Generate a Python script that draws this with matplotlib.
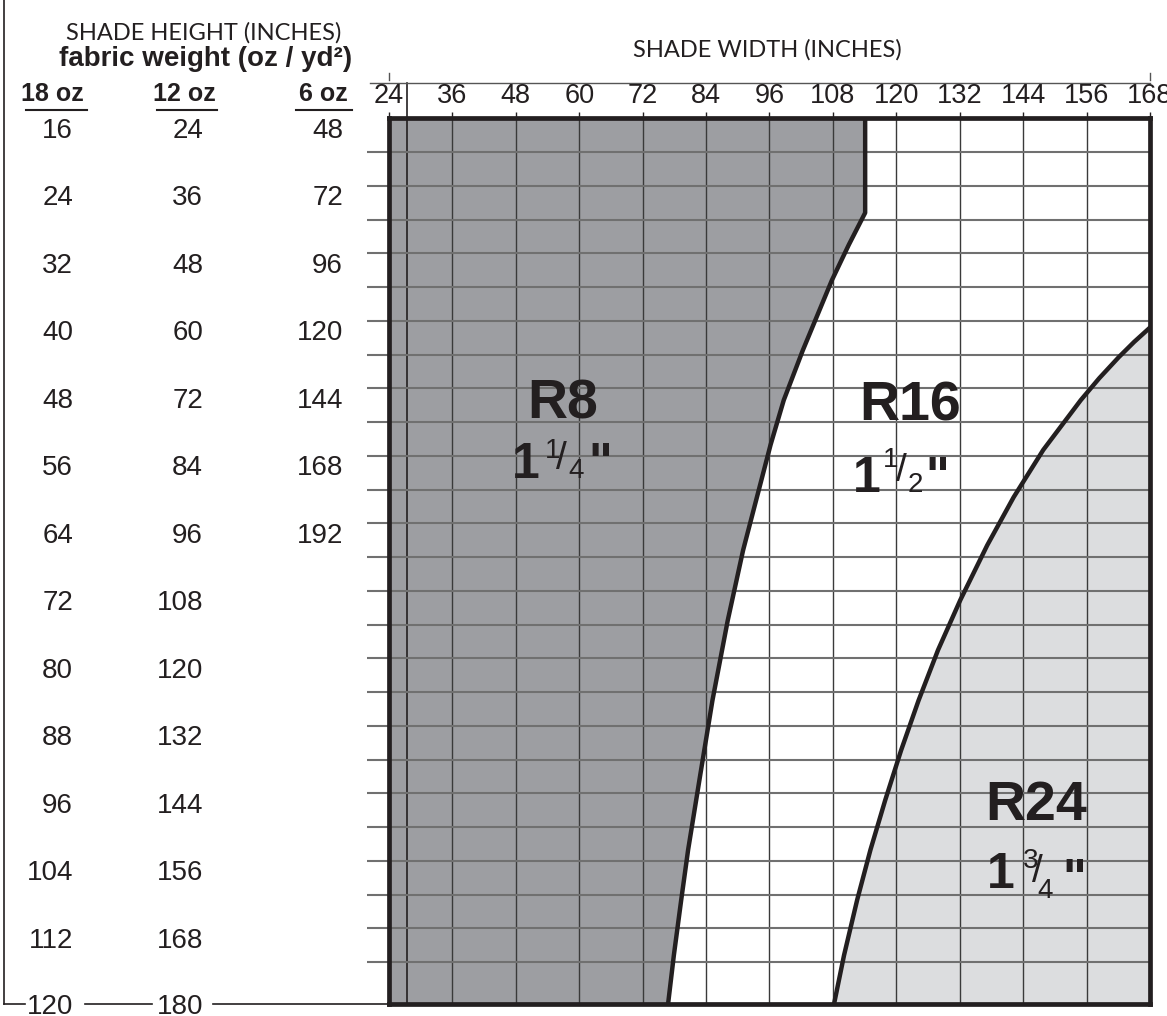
import matplotlib
matplotlib.use("Agg")
from matplotlib import pyplot as plt
from matplotlib import transforms

plt.rcParams['font.family'] = ['Liberation Sans', 'DejaVu Sans']

#%% data
width_ticks = [24, 36, 48, 60, 72, 84, 96, 108, 120, 132, 144, 156, 168]
rows_18oz = [16, 24, 32, 40, 48, 56, 64, 72, 80, 88, 96, 104, 112, 120]
rows_12oz = [24, 36, 48, 60, 72, 84, 96, 108, 120, 132, 144, 156, 168, 180]
rows_6oz = [48, 72, 96, 120, 144, 168, 192]
grid_rows = [19, 23, 27, 31, 35, 39, 43, 47, 51, 55, 59, 63, 67, 71, 75, 79,
             83, 87, 91, 95, 99, 103, 107, 111, 115]
min_width = 27.5

# R8 / R16 boundary (width, height in 18 oz scale)
r8_x = [114.1, 114.1, 111.0, 107.8, 102.3, 98.7, 96.2, 91.0, 88.1, 85.2,
        82.9, 80.6, 79.3, 77.9, 76.8]
r8_y = [15.0, 26.2, 30.0, 34.2, 42.5, 48.4, 53.7, 66.2, 74.5, 84.0,
        92.8, 101.7, 107.6, 114.2, 120.0]
# R16 / R24 boundary
r24_x = [168.0, 165.0, 162.1, 158.4, 154.9, 147.8, 142.2, 137.2, 132.1,
         127.9, 124.2, 120.9, 117.9, 115.1, 112.6, 110.1, 108.2]
r24_y = [39.8, 41.5, 43.3, 45.8, 48.4, 54.3, 59.9, 65.6, 72.1,
         78.0, 84.0, 89.9, 95.8, 101.7, 107.6, 114.2, 120.0]

ink = '#231f20'
W, H = 1167, 1016
fx = lambda px: px / W
fy = lambda py: 1 - py / H

#%%
fig = plt.figure(figsize=(W / 100, H / 100), dpi=100)
ax = fig.add_axes([fx(389), fy(1004.3), (1150 - 389) / W, (1004.3 - 118.3) / H])
ax.set_xlim(24, 168)
ax.set_ylim(120, 15)

# regions
ax.fill(r8_x + [24, 24], r8_y + [120, 15], color='#9d9ea2', zorder=0.5, lw=0)
ax.fill(r24_x + [168], r24_y + [120], color='#dcdddf', zorder=0.5, lw=0)
ax.plot(r8_x, r8_y, color=ink, lw=3.2, zorder=3, solid_joinstyle='round')
ax.plot(r24_x, r24_y, color=ink, lw=3.2, zorder=3, solid_joinstyle='round')

# grid
ax.set_xticks(width_ticks)
ax.set_yticks(grid_rows)
ax.grid(axis='x', color='#3a3a3a', lw=1.0)
ax.grid(axis='y', color='#707070', lw=1.5)
ax.set_axisbelow(False)
for l in ax.get_xgridlines() + ax.get_ygridlines():
    l.set_zorder(1)
ax.tick_params(axis='x', top=True, bottom=False, labeltop=True, labelbottom=False,
               length=4.5, width=1, color=ink, pad=2, labelsize=19.5, labelcolor=ink)
ax.tick_params(axis='y', left=True, right=False, labelleft=False,
               length=16, width=1.5, color='#707070')
for s in ax.spines.values():
    s.set_linewidth(3.4)
    s.set_color(ink)
    s.set_zorder(4)

# minimum width line, going up to the guide line
ax.axvline(min_width, ymin=0, ymax=1.04, color=ink, lw=1.2, clip_on=False, zorder=2)

# top guide line with end ticks
tr_xf = transforms.blended_transform_factory(ax.transData, fig.transFigure)
ax.plot([20.4, 168], [fy(83), fy(83)], color='#555555', lw=1.0, transform=tr_xf, clip_on=False)
for xv in (24, 168):
    ax.plot([xv, xv], [fy(73), fy(80)], color='#555555', lw=1.0, transform=tr_xf, clip_on=False)

# titles
fig.text(fx(204), fy(40), 'SHADE HEIGHT (INCHES)', family=['Lato', 'DejaVu Sans'],
         fontsize=17, ha='center', va='baseline', color=ink)
fig.text(fx(206), fy(66), 'fabric weight (oz / yd²)', fontsize=20, weight='bold',
         ha='center', va='baseline', color=ink)
fig.text(fx(767), fy(57), 'SHADE WIDTH (INCHES)', family=['Lato', 'DejaVu Sans'],
         fontsize=17, ha='center', va='baseline', color=ink)

# column headers
for name, cx, x0, x1 in [('18 oz', 52, 26, 87), ('12 oz', 184, 157, 217), ('6 oz', 323, 296, 352)]:
    fig.text(fx(cx), fy(101), name, fontsize=18, weight='bold', ha='center',
             va='baseline', color=ink)
    fig.add_artist(plt.Line2D([fx(x0), fx(x1)], [fy(110), fy(110)], color=ink, lw=1.5))

# row labels
tr_fy = transforms.blended_transform_factory(fig.transFigure, ax.transData)
for i, v in enumerate(rows_18oz):
    off = 1.1 if v == rows_18oz[-1] else 1.3
    ax.text(fx(73), rows_18oz[i] + off, str(v), transform=tr_fy, ha='right',
            va='baseline', fontsize=20, color=ink, clip_on=False)
for i, v in enumerate(rows_12oz):
    off = 1.1 if v == rows_12oz[-1] else 1.3
    ax.text(fx(203), rows_18oz[i] + off, str(v), transform=tr_fy, ha='right',
            va='baseline', fontsize=20, color=ink, clip_on=False)
for i, v in enumerate(rows_6oz):
    ax.text(fx(343), rows_18oz[i] + 1.3, str(v), transform=tr_fy, ha='right',
            va='baseline', fontsize=20, color=ink, clip_on=False)

# left frame and bottom leaders
ax.plot([fx(3.5), fx(3.5)], [15 - 30, 120], color=ink, lw=1.2, transform=tr_fy, clip_on=False)
for x0, x1 in [(3.5, 25), (85, 152), (213, 389)]:
    ax.plot([fx(x0), fx(x1)], [120, 120], color=ink, lw=1.2, transform=tr_fy, clip_on=False)

# region labels
def frac_label(name, name_xy, one_xy, num, num_xy, slash_xy, den, den_xy, quote_xy):
    ax.text(*name_xy, name, fontsize=40, weight='bold', ha='center', va='baseline', color=ink, zorder=5)
    ax.text(*one_xy, '1', fontsize=36, weight='bold', ha='center', va='baseline', color=ink, zorder=5)
    ax.text(*num_xy, num, fontsize=20, ha='center', va='baseline', color=ink, zorder=5)
    ax.text(*slash_xy, '/', fontsize=28, ha='center', va='center', color=ink, zorder=5)
    ax.text(*den_xy, den, fontsize=20, ha='center', va='baseline', color=ink, zorder=5)
    ax.text(*quote_xy, '"', fontsize=36, weight='bold', ha='center', va='baseline', color=ink, zorder=5)

frac_label('R8', (56.9, 50.6), (49.9, 57.6), '1', (55.0, 55.2), (56.6, 55.4),
           '4', (59.4, 57.6), (63.9, 57.6))
frac_label('R16', (122.6, 50.8), (114.4, 59.3), '1', (119.0, 56.3), (120.9, 56.8),
           '2', (123.5, 59.3), (127.7, 59.3))
frac_label('R24', (146.4, 98.2), (139.8, 106.2), '3', (145.5, 103.8), (146.6, 104.3),
           '4', (148.1, 107.4), (153.6, 106.9))

fig.savefig('out.png', dpi=100, facecolor='white')
